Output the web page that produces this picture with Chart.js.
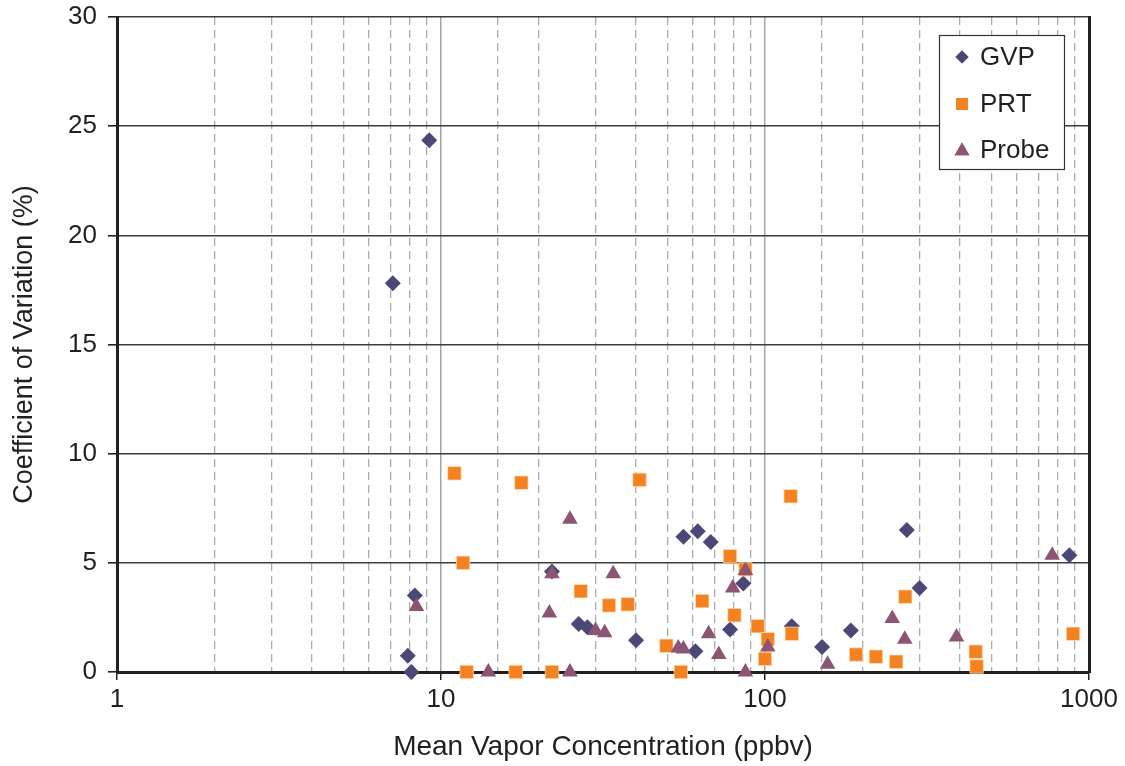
<!DOCTYPE html>
<html>
<head>
<meta charset="utf-8">
<script src="https://cdn.jsdelivr.net/npm/chart.js@4/dist/chart.umd.min.js"></script>
<style>
  html, body { margin: 0; padding: 0; background: #ffffff; }
  #wrap { width: 1125px; height: 766px; position: relative; }
</style>
</head>
<body>
<div id="wrap"><canvas id="c" width="1125" height="766"></canvas></div>
<script>
// ---- Data ----
const seriesNames = ["GVP", "PRT", "Probe"];

const gvpX = [7.1, 9.2, 7.9, 8.1, 8.3, 22, 26.6, 28.3, 40, 56, 62, 68, 61, 78, 85.7, 121, 150, 184, 274, 300, 870];
const gvpY = [17.8, 24.35, 0.75, 0, 3.5, 4.6, 2.2, 2.05, 1.45, 6.2, 6.45, 5.95, 0.95, 1.95, 4.05, 2.1, 1.15, 1.9, 6.5, 3.85, 5.35];

const prtX = [11, 11.7, 12, 17, 17.7, 22, 27, 33, 37.7, 41, 49.6, 55, 64, 78, 80.5, 87, 95, 100, 102, 120, 121, 191, 220, 254, 271, 447, 450, 893];
const prtY = [9.1, 5.0, 0, 0, 8.67, 0, 3.7, 3.05, 3.1, 8.8, 1.2, 0, 3.25, 5.3, 2.6, 4.7, 2.1, 0.6, 1.5, 8.05, 1.75, 0.8, 0.7, 0.47, 3.45, 0.93, 0.25, 1.75];

const probeX = [8.4, 14, 21.6, 22, 25, 25, 30, 32, 34, 54, 56, 67, 72, 79.5, 87, 87, 102, 156, 247, 270, 390, 770];
const probeY = [3.0, 0, 2.7, 4.5, 7.0, 0, 1.9, 1.8, 4.5, 1.1, 1.05, 1.75, 0.8, 3.85, 4.65, 0, 1.15, 0.35, 2.45, 1.5, 1.6, 5.35];

const xTickLabels = [1, 10, 100, 1000];
const yMin = 0, yMax = 30, yStep = 5;
const xMin = 1, xMax = 1000;
const xTitle = "Mean Vapor Concentration (ppbv)";
const yTitle = "Coefficient of Variation (%)";

// ---- Styles ----
const colGVP = "#4b4878";
const colPRT = "#f58220";
const colProbe = "#8c5573";
const ink = "#231f20";
const fontFam = "'Liberation Sans', Arial, Helvetica, sans-serif";

function pts(xs, ys) { return xs.map((x, i) => ({ x: x, y: ys[i] })); }
function isPow10(v) { const l = Math.log10(v); return Math.abs(l - Math.round(l)) < 1e-9; }

const legendBox = {
  id: "legendBox",
  afterDraw(chart) {
    const ctx = chart.ctx;
    const bx = 939, by = 35, bw = 125, bh = 134;
    ctx.save();
    ctx.fillStyle = "#ffffff";
    ctx.fillRect(bx, by, bw, bh);
    ctx.strokeStyle = "#333333";
    ctx.lineWidth = 1.2;
    ctx.strokeRect(bx + 0.5, by + 0.5, bw, bh);
    const rows = [
      { name: seriesNames[0], style: "rectRot", color: colGVP, r: 6.5, y: by + 22 },
      { name: seriesNames[1], style: "rect", color: colPRT, r: 8.5, y: by + 69 },
      { name: seriesNames[2], style: "triangle", color: colProbe, r: 8.5, y: by + 115 }
    ];
    ctx.font = "26px " + fontFam;
    ctx.textBaseline = "middle";
    ctx.textAlign = "left";
    rows.forEach(r => {
      ctx.fillStyle = r.color;
      Chart.helpers.drawPoint(ctx, { pointStyle: r.style, radius: r.r, rotation: 0, borderWidth: 0 }, bx + 23, r.y + (r.style === "triangle" ? 1 : 0));
      ctx.fill();
      ctx.fillStyle = ink;
      ctx.fillText(r.name, bx + 41, r.y + 1);
    });
    ctx.restore();
  }
};

new Chart(document.getElementById("c"), {
  type: "scatter",
  data: {
    datasets: [
      { label: seriesNames[0], data: pts(gvpX, gvpY), pointStyle: "rectRot", pointRadius: 8, pointHoverRadius: 8,
        backgroundColor: colGVP, borderColor: colGVP, borderWidth: 0, order: 3 },
      { label: seriesNames[1], data: pts(prtX, prtY), pointStyle: "rect", pointRadius: 9.5, pointHoverRadius: 9.5,
        backgroundColor: colPRT, borderColor: "rgba(255,225,190,0.9)", borderWidth: 0.8, order: 2 },
      { label: seriesNames[2], data: pts(probeX, probeY), pointStyle: "triangle", pointRadius: 9, pointHoverRadius: 9,
        backgroundColor: colProbe, borderColor: colProbe, borderWidth: 0, order: 1 }
    ]
  },
  options: {
    responsive: false,
    animation: false,
    clip: false,
    layout: { autoPadding: false, padding: { top: 17, right: 0, bottom: 0, left: 0 } },
    plugins: { legend: { display: false }, tooltip: { enabled: false } },
    scales: {
      x: {
        type: "logarithmic", position: "bottom", min: xMin, max: xMax,
        afterFit(s) { s.height = 94; s.paddingLeft = 0; s.paddingRight = 0; },
        ticks: {
          autoSkip: false, maxRotation: 0, padding: 4,
          color: ink, font: { family: fontFam, size: 26 },
          callback(v) { return xTickLabels.includes(Math.round(v)) && isPow10(v) ? String(Math.round(v)) : ""; }
        },
        grid: {
          color(c) { const v = c.tick && c.tick.value; return (v === 10 || v === 100) ? "#a6a6a6" : "rgba(0,0,0,0)"; },
          lineWidth: 1.5,
          tickColor(c) { const v = c.tick && c.tick.value; return (v && isPow10(v)) ? ink : "rgba(0,0,0,0)"; },
          tickLength: 8, tickWidth: 1.5
        },
        border: { display: true, color: ink, width: 3 },
        title: { display: true, text: xTitle, color: ink, font: { family: fontFam, size: 28 }, padding: { top: 0, bottom: 2 } }
      },
      x2: {
        type: "logarithmic", position: "bottom", min: xMin, max: xMax,
        afterFit(s) { s.height = 0; s.paddingLeft = 0; s.paddingRight = 0; },
        ticks: { display: false, autoSkip: false },
        grid: {
          color(c) { const v = c.tick && c.tick.value; return (v && !isPow10(v)) ? "#ababab" : "rgba(0,0,0,0)"; },
          lineWidth: 1.3, drawTicks: false
        },
        border: { display: false, dash: [8, 5] }
      },
      y: {
        position: "left", min: yMin, max: yMax,
        afterFit(s) { s.width = 117; s.paddingTop = 0; s.paddingBottom = 0; },
        ticks: { stepSize: yStep, padding: 11, color: ink, font: { family: fontFam, size: 26 } },
        grid: { color: "#3c3c3c", lineWidth: 1.6, tickColor: ink, tickLength: 9, tickWidth: 1.6 },
        border: { display: true, color: ink, width: 3 },
        title: { display: true, text: yTitle, color: ink, font: { family: fontFam, size: 27 }, padding: { top: 8, bottom: 0 } }
      },
      yR: {
        position: "right", min: yMin, max: yMax,
        afterFit(s) { s.width = 36; s.paddingTop = 0; s.paddingBottom = 0; },
        ticks: { display: false },
        grid: { drawOnChartArea: false, drawTicks: false },
        border: { display: true, color: ink, width: 3 }
      }
    }
  },
  plugins: [legendBox]
});
</script>
</body>
</html>
